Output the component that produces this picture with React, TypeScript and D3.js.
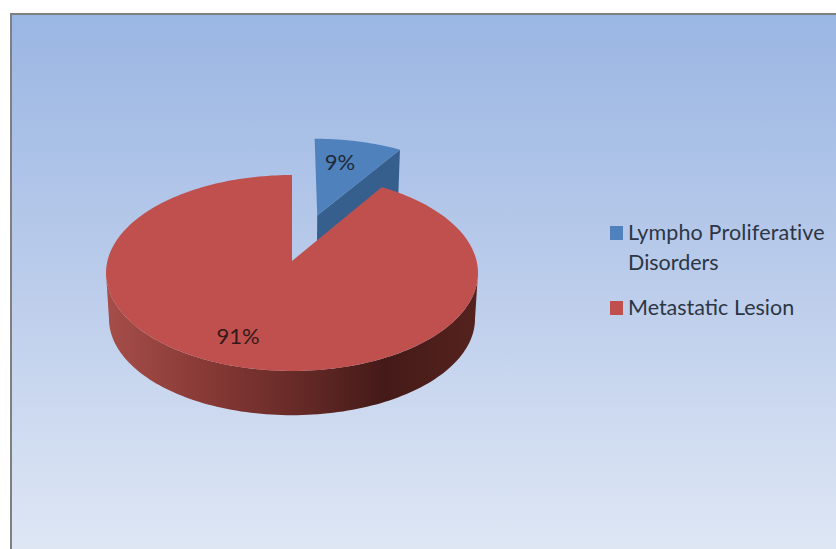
import React from "react";
import * as d3 from "d3";

const categories = ["Lympho Proliferative Disorders", "Metastatic Lesion"];
const shares = [9, 91];
const shareLabels = ["9%", "91%"];
const legendLines = [["Lympho Proliferative", "Disorders"], ["Metastatic Lesion"]];
const topColors = ["#4f81bd", "#c0504d"];
const wallColors = ["#375f8e", "#7a2f2b"];

const W = 836;
const H = 549;
const FONT = "Lato, 'Open Sans', sans-serif";

// Perspective model of the pie: the unit disc lies on a plane tilted away from the viewer.
const cx = 292;
const cy = 261;
const scaleX = 184.6;
const scaleY = 96.5;
const persp = 0.1224;
const wallDepth = 46;
const explode = 0.52;

type P = [number, number];

function project(px: number, py: number, z = 0): P {
  const d = 1 + persp * py;
  const shrink = 1 - 0.016 * z;
  return [cx + (scaleX * px * shrink) / d, cy - (scaleY * py * shrink) / d + wallDepth * z];
}

const pieAngles = d3.pie<number>().value((d) => d).sort(null)(shares);
const line = d3.line();

function arcPoints(a0: number, a1: number, ox: number, oy: number, z: number): P[] {
  const n = Math.max(4, Math.ceil(Math.abs(a1 - a0) * 40));
  return d3.range(n + 1).map((i) => {
    const a = a0 + ((a1 - a0) * i) / n;
    return project(ox + Math.sin(a), oy + Math.cos(a), z);
  });
}

function wedgeTop(a0: number, a1: number, ox: number, oy: number): string {
  return line([project(ox, oy), ...arcPoints(a0, a1, ox, oy, 0)])! + "Z";
}

function band(a0: number, a1: number, ox: number, oy: number): string {
  return line([...arcPoints(a0, a1, ox, oy, 0), ...arcPoints(a1, a0, ox, oy, 1)])! + "Z";
}

const blue = pieAngles[0];
const red = pieAngles[1];
const blueMid = (blue.startAngle + blue.endAngle) / 2;
const blueOx = explode * Math.sin(blueMid);
const blueOy = explode * Math.cos(blueMid);

// The rim is visible between the two points where the tilted disc reaches its widest on screen.
const rimInset = Math.asin(persp);

// Cut face of the pulled-out slice, running from its apex to the outer corner.
const blueFace =
  line([
    project(blueOx, blueOy),
    project(blueOx + Math.sin(blue.endAngle), blueOy + Math.cos(blue.endAngle)),
    project(blueOx + Math.sin(blue.endAngle), blueOy + Math.cos(blue.endAngle), 1),
    project(blueOx, blueOy, 1),
  ])! + "Z";

export default function App() {
  return (
    <svg
      width={W}
      height={H}
      viewBox={`0 0 ${W} ${H}`}
      style={{ position: "absolute", left: 0, top: 0, display: "block" }}
    >
      <defs>
        <linearGradient id="plotBg" x1="0" y1="0" x2="0" y2="1">
          <stop offset="0" stopColor="#9ab6e3" />
          <stop offset="0.5" stopColor="#bccdeb" />
          <stop offset="1" stopColor="#e0e8f5" />
        </linearGradient>
        <linearGradient id="redWall" gradientUnits="userSpaceOnUse" x1="106" y1="0" x2="477" y2="0">
          <stop offset="0" stopColor="#a64e49" />
          <stop offset="0.25" stopColor="#8a3b37" />
          <stop offset="0.5" stopColor="#692b28" />
          <stop offset="0.75" stopColor="#441a18" />
          <stop offset="1" stopColor="#55221e" />
        </linearGradient>
      </defs>
      <rect x={0} y={0} width={W} height={H} fill="#ffffff" />
      <rect x={11} y={14} width={W} height={H} fill="url(#plotBg)" stroke="#808080" strokeWidth={2} />

      <path d={blueFace} fill={wallColors[0]} />
      <path
        d={wedgeTop(blue.startAngle, blue.endAngle, blueOx, blueOy)}
        fill={topColors[0]}
      />

      <path
        d={band(Math.PI / 2 + rimInset, (3 * Math.PI) / 2 - rimInset, 0, 0)}
        fill="url(#redWall)"
      />
      <path d={wedgeTop(red.startAngle, red.endAngle, 0, 0)} fill={topColors[1]} />

      <text x={340} y={170} textAnchor="middle" fontFamily={FONT} fontSize={22} fill="#1f2a38">
        {shareLabels[0]}
      </text>
      <text x={238} y={344} textAnchor="middle" fontFamily={FONT} fontSize={22} fill="#33191a">
        {shareLabels[1]}
      </text>

      {categories.map((c, i) => {
        const top = i === 0 ? 226 : 301;
        return (
          <g key={c}>
            <rect x={610} y={top} width={13} height={14} fill={topColors[i]} />
            {legendLines[i].map((t, j) => (
              <text
                key={t}
                x={628}
                y={top + 14 + j * 29.5}
                fontFamily={FONT}
                fontSize={21.5}
                letterSpacing={i === 0 && j === 0 ? 0.15 : 0}
                fill="#2c3644"
              >
                {t}
              </text>
            ))}
          </g>
        );
      })}
    </svg>
  );
}
